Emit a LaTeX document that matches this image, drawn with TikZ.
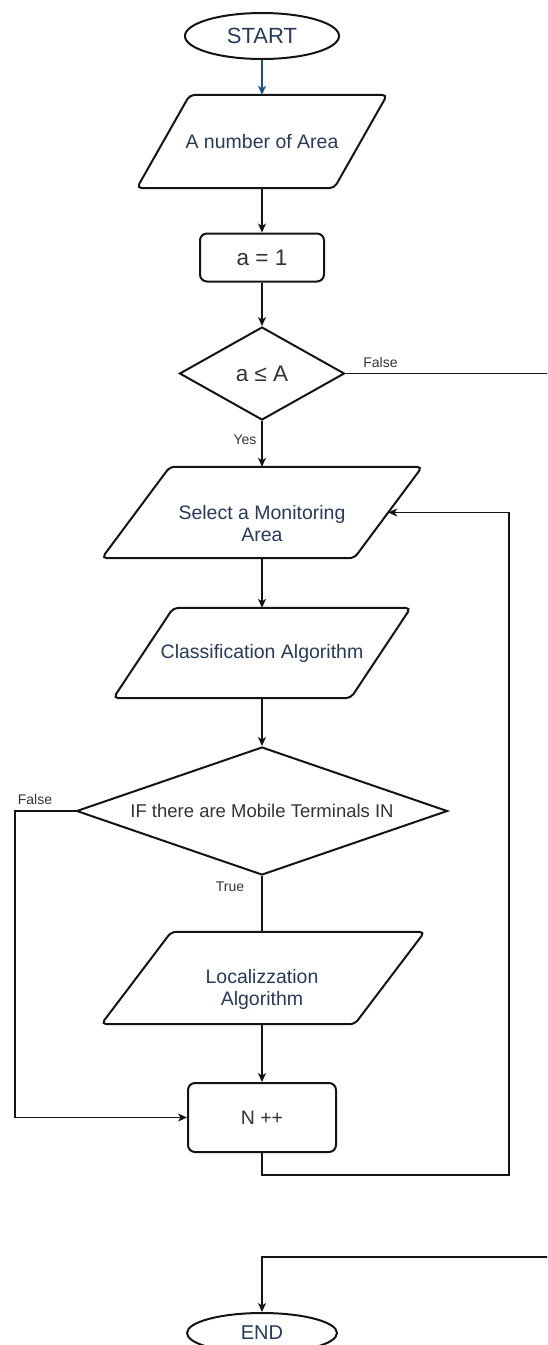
\documentclass[tikz,border=0pt]{standalone}
\usepackage{fontspec}
\setmainfont{Liberation Sans}
\usetikzlibrary{shapes.geometric,arrows.meta,calc}

\definecolor{inkblue}{RGB}{40,58,86}
\definecolor{flowblue}{RGB}{30,78,128}
\definecolor{labelgray}{RGB}{51,51,51}
\definecolor{outline}{RGB}{20,20,20}

\tikzset{
  shapeline/.style={draw=outline, line width=2pt},
  terminal/.style={shapeline, ellipse, inner sep=0pt, text=inkblue},
  process/.style={shapeline, rectangle, rounded corners=7pt, inner sep=0pt,
    text=labelgray, font=\fontsize{19.5}{22}\selectfont},
  decision/.style={shapeline, diamond, inner sep=0pt, text=labelgray},
  iobody/.style={rectangle, inner sep=0pt},
  iotext/.style={text=inkblue, align=center, inner sep=0pt,
    font=\fontsize{19.5}{22}\selectfont},
  flow/.style={line width=1.3pt, draw=outline,
    -{Stealth[length=9pt,width=8pt,inset=2.5pt]}},
  link/.style={line width=1.3pt, draw=outline},
  tag/.style={text=labelgray, inner sep=0pt, font=\fontsize{14}{16}\selectfont},
}

% slanted input/output box drawn around an invisible body node
\newcommand\ioshape[2]{%
  \draw[shapeline, rounded corners=5pt]
    ($(#1.north west)+(#2/2,0)$) -- ($(#1.north east)+(#2/2,0)$) --
    ($(#1.south east)-(#2/2,0)$) -- ($(#1.south west)-(#2/2,0)$) -- cycle;}

\begin{document}
\begin{tikzpicture}[x=1pt, y=-1pt]
  \useasboundingbox (0,0) rectangle (547,1345);
  \clip (0,0) rectangle (547,1345);

  % nodes
  \node[terminal, minimum width=154pt, minimum height=46pt,
        font=\fontsize{22}{24}\selectfont] (start) at (262,36) {START};

  \node[iobody, minimum width=197pt, minimum height=93pt] (area) at (262,141.5) {};
  \ioshape{area}{53}
  \node[iotext] (areaT) at (area) {A number of Area};

  \node[process, minimum width=124pt, minimum height=48pt,
        font=\fontsize{22.5}{24}\selectfont] (init) at (262,257.5) {a = 1};

  \node[decision, minimum width=165pt, minimum height=93pt, aspect=1.8,
        font=\fontsize{22.5}{24}\selectfont] (loop) at (262,373.5) {a ≤ A};

  \node[iobody, minimum width=252pt, minimum height=91pt] (select) at (262,512.5) {};
  \ioshape{select}{68}
  \node[iotext] (selectT) at ($(select)+(0,11)$) {Select a Monitoring\\Area};

  \node[iobody, minimum width=237pt, minimum height=90pt] (classify) at (262,653) {};
  \ioshape{classify}{60}
  \node[iotext] (classifyT) at (classify) {Classification Algorithm};

  \node[decision, minimum width=371pt, minimum height=128pt, aspect=2.9,
        font=\fontsize{18.5}{20}\selectfont] (mobile) at (262,811)
        {IF there are Mobile Terminals IN};

  \node[iobody, minimum width=253pt, minimum height=92pt] (localize) at (263,978) {};
  \ioshape{localize}{70}
  \node[iotext] (localizeT) at ($(localize)+(-1,11)$) {Localizzation\\Algorithm};

  \node[process, minimum width=148pt, minimum height=69pt] (count) at (262,1117.5) {N ++};

  \node[terminal, minimum width=150pt, minimum height=40pt,
        font=\fontsize{20}{22}\selectfont] (end) at (262,1333) {END};

  % routing points
  \coordinate (fout) at (552,373.5);
  \coordinate (fback) at (552,1257);
  \coordinate (lrail) at (15,1117.5);
  \coordinate (rloop) at (509,1175);

  % connectors
  \draw[flow, draw=flowblue] (start.south) -- (area.north);
  \draw[flow] (area.south) -- (init.north);
  \draw[flow] (init.south) -- (loop.north);
  \draw[flow] (loop.south) -- (select.north);
  \draw[flow] (select.south) -- (classify.north);
  \draw[flow] (classify.south) -- (mobile.north);
  \draw[link] (mobile.south) -- (mobile.south |- localize.north);
  \draw[flow] (localize.south -| count.north) -- (count.north);
  \draw[flow] (mobile.west) -| (lrail) -- (count.west);
  \draw[flow] (count.south) |- (rloop) |- (select.east);
  \draw[flow] (loop.east) -- (fout) -- (fback) -- (end.north |- fback) -- (end.north);

  % branch labels
  \node[tag] (falseA) at (380.5,362) {False};
  \node[tag] (yesA) at (245,440) {Yes};
  \node[tag] (falseB) at (35,799) {False};
  \node[tag] (trueB) at (230,887) {True};
\end{tikzpicture}
\end{document}
